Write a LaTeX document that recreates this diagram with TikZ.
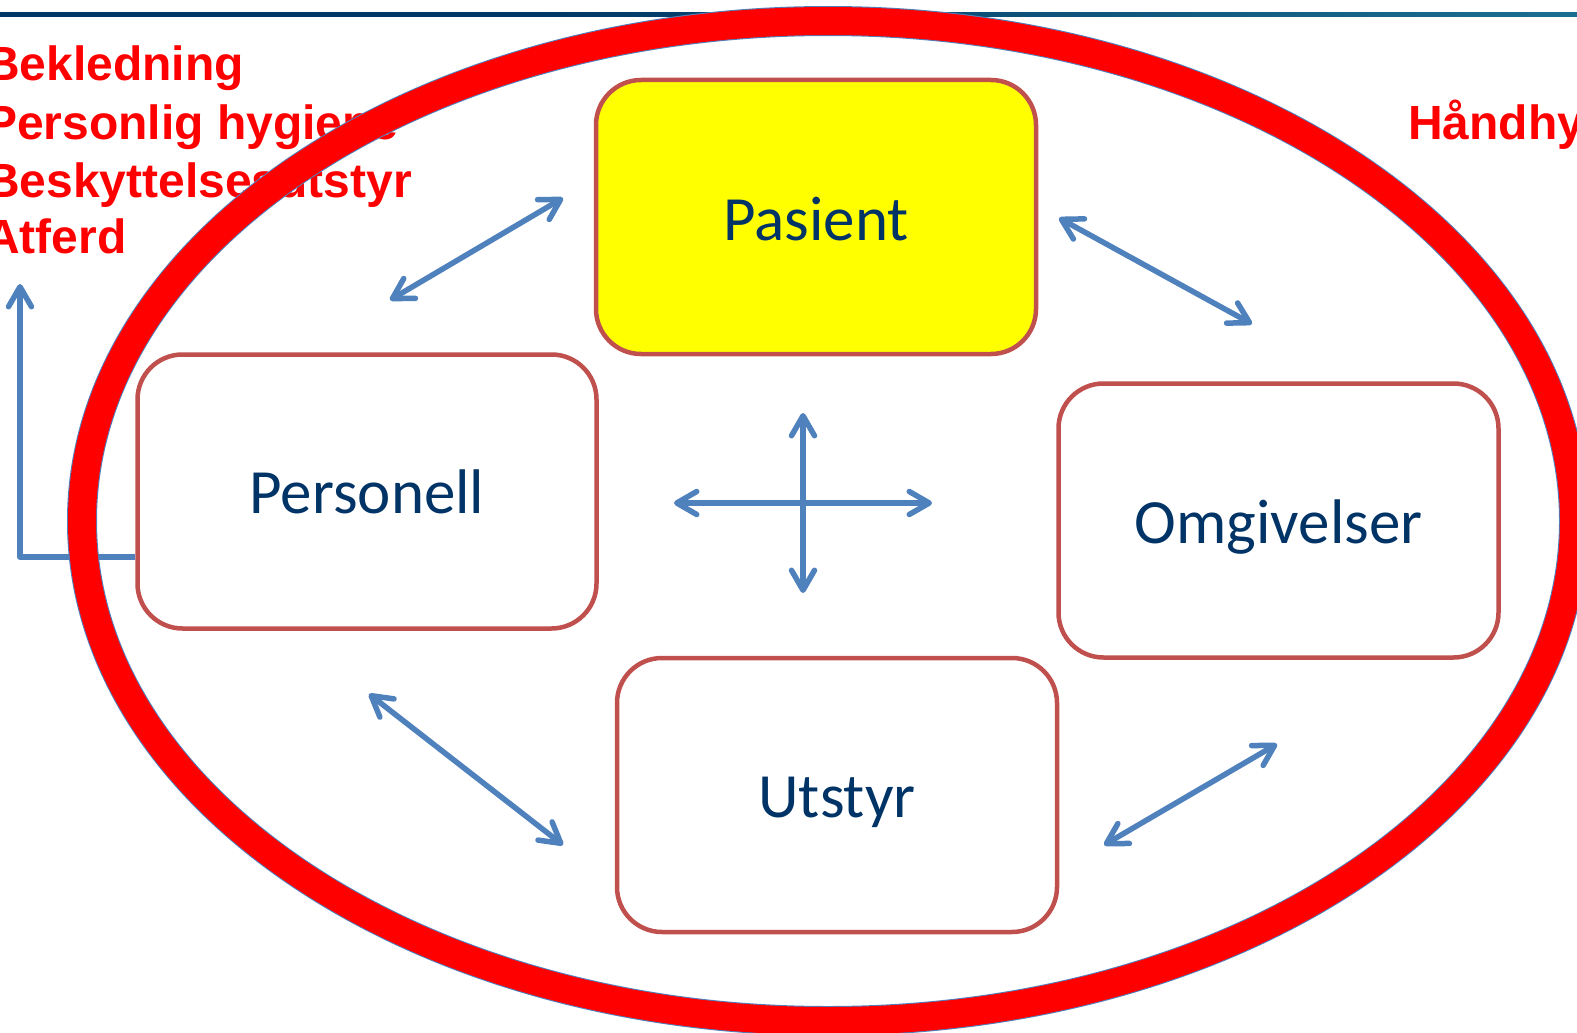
\documentclass[tikz,border=0pt]{standalone}
\usepackage{fontspec}
\setmainfont{Carlito}
\newfontfamily\arialfont{Liberation Sans}
\usetikzlibrary{arrows.meta}
\definecolor{boxborder}{HTML}{C0504D}
\definecolor{boxtext}{RGB}{0,51,102}
\definecolor{arrowblue}{HTML}{4F81BD}
\definecolor{linenavy}{RGB}{0,56,101}
\definecolor{lineteal}{RGB}{49,152,178}
\definecolor{ringblue}{HTML}{4F81BD}
\definecolor{ringred}{RGB}{255,0,0}
\definecolor{pasfill}{RGB}{255,255,0}
\pgfdeclarehorizontalshading{toplineshade}{100bp}{color(0bp)=(linenavy); color(42bp)=(linenavy); color(100bp)=(lineteal)}
\newcommand{\lowertext}[2]{\raisebox{-#1}[\height][\depth]{#2}}
\begin{document}
\begin{tikzpicture}[x=1pt,y=-1pt,
  box/.style={draw=boxborder, line width=4.5pt, rounded corners=45pt,
    minimum width=440pt, minimum height=274pt, text=boxtext,
    font=\fontsize{63}{75}\selectfont, inner sep=0pt},
  redlabel/.style={text=red, font=\arialfont\bfseries\fontsize{48}{56}\selectfont,
    inner sep=0pt, anchor=base west},
  link/.style={draw=arrowblue, line width=5.5pt, line cap=round,
    {Straight Barb[length=20pt,width=23pt,round]}-{Straight Barb[length=20pt,width=23pt,round]}},
  onelink/.style={draw=arrowblue, line width=5.5pt, line join=round,
    -{Straight Barb[length=20pt,width=23pt,round]}}]
\useasboundingbox (0,0) rectangle (1577,1033);
\clip (0,0) rectangle (1577,1033);
\fill[white] (0,0) rectangle (1577,1033);

% top line
\shade[shading=toplineshade] (0,12.5) rectangle (1577,17);

% red labels
\node[redlabel] (t1) at (-15,81) {Bekledning};
\node[redlabel] (t2) at (-15,139) {Personlig hygiene};
\node[redlabel] (t3) at (-15,197) {Beskyttelsesutstyr};
\node[redlabel] (t4) at (-15,253) {Atferd};
\node[redlabel] (t5) at (1408,139) {Håndhygiene};

% box centres
\coordinate (cpas) at (816,217);
\coordinate (cper) at (367,491.5);
\coordinate (comg) at (1278.5,520.5);
\coordinate (cuts) at (837,795);

% left connector (behind ring)
\node[box, minimum width=459pt, draw=none, fill=none, text=white] (perghost) at (cper) {};
\coordinate (lcorner) at (20,557);
\coordinate (ltip) at (20,284);
\draw[onelink] (perghost.west |- lcorner) -- (lcorner) -- (ltip);

% ring
\draw[ringblue, line width=30pt] (828,521) ellipse [x radius=746, y radius=500];
\draw[ringred, line width=28pt] (828,521) ellipse [x radius=746, y radius=500];

% boxes
\node[box, fill=pasfill] (pas) at (cpas) {\lowertext{2pt}{Pasient}};
\node[box, minimum width=459pt, fill=white] (per) at (cper) {Personell};
\node[box, fill=white] (omg) at (comg) {\lowertext{7pt}{Omgivelser}};
\node[box, fill=white] (uts) at (cuts) {\lowertext{7pt}{Utstyr}};

% double arrows
\coordinate (a1s) at (390,300);  \coordinate (a1e) at (563,198);
\coordinate (a2s) at (1059,218); \coordinate (a2e) at (1252,324);
\coordinate (a3s) at (369,694);  \coordinate (a3e) at (563,845);
\coordinate (a4s) at (1104,845); \coordinate (a4e) at (1277,744);
\coordinate (hl) at (674,503);   \coordinate (hr) at (932,503);
\coordinate (vt) at (803,413);   \coordinate (vb) at (803,593);
\draw[link] (a1s) -- (a1e);
\draw[link] (a2s) -- (a2e);
\draw[link] (a3s) -- (a3e);
\draw[link] (a4s) -- (a4e);
\draw[link] (hl) -- (hr);
\draw[link] (vt) -- (vb);
\end{tikzpicture}
\end{document}
